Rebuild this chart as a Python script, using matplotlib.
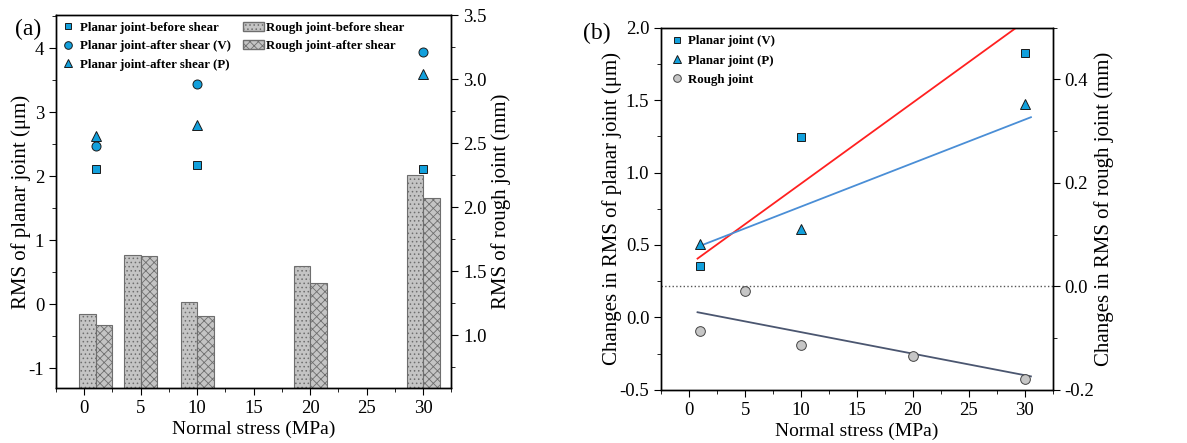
import numpy as np
import matplotlib
matplotlib.use("Agg")
import matplotlib.pyplot as plt
from matplotlib.ticker import MultipleLocator
from matplotlib.patches import Patch
from matplotlib.lines import Line2D

plt.rcParams['font.family'] = ['Liberation Serif', 'DejaVu Serif']
plt.rcParams['hatch.linewidth'] = 0.6
plt.rcParams['axes.linewidth'] = 1.0
plt.rcParams['axes.unicode_minus'] = False

# ---------------- panel (a) data ----------------
stress_bars = [1, 5, 10, 20, 30]
rough_before = [1.164, 1.623, 1.26, 1.541, 2.252]
rough_after = [1.078, 1.617, 1.146, 1.409, 2.073]

stress_planar = [1, 10, 30]
planar_before = [2.11, 2.18, 2.11]
planar_after_v = [2.48, 3.44, 3.94]
planar_after_p = [2.63, 2.80, 3.60]

# ---------------- panel (b) data ----------------
d_planar_v = [0.358, 1.248, 1.825]
d_planar_p = [0.51, 0.611, 1.472]
stress_rough = [1, 5, 10, 20, 30]
d_rough = [-0.087, -0.009, -0.113, -0.134, -0.179]

# fitted lines (end points)
fit_v_x = [0.75, 30.3]
fit_v_y = [0.406, 2.06]
fit_p_x = [1.05, 30.54]
fit_p_y = [0.496, 1.382]
fit_r_x = [0.75, 30.54]
fit_r_y = [-0.050, -0.174]

blue = '#12a0dc'
gray_fill = '#c4c4c4'
edge = '#6e6e6e'
tick_fs = 13.5
ylabel_fs = 15
xlabel_fs = 14
leg_fs = 9.3


def style_axis(ax, twin):
    for a in (ax, twin):
        a.tick_params(which='both', direction='out', labelsize=tick_fs)
        a.tick_params(which='major', length=5)
        a.tick_params(which='minor', length=3)
    ax.xaxis.set_major_locator(MultipleLocator(5))
    ax.xaxis.set_minor_locator(MultipleLocator(2.5))
    ax.set_xlim(-2.5, 32.5)


fig = plt.figure(figsize=(11.87, 4.43), dpi=100)

# ---------------- (a) ----------------
ax1 = fig.add_axes([0.0472, 0.124, 0.333, 0.842])
ax1r = ax1.twinx()
ax1.set_zorder(ax1r.get_zorder() + 1)
ax1.patch.set_visible(False)

w = 1.46
ax1r.bar(np.array(stress_bars) - w / 2, rough_before, width=w, color=gray_fill,
         edgecolor=edge, linewidth=0.8, hatch='....')
ax1r.bar(np.array(stress_bars) + w / 2, rough_after, width=w, color=gray_fill,
         edgecolor=edge, linewidth=0.8, hatch='xxxx')

ax1.plot(stress_planar, planar_before, 's', color=blue, mec='#1a1a1a', mew=0.7, ms=6)
ax1.plot(stress_planar, planar_after_v, 'o', color=blue, mec='#1a1a1a', mew=0.7, ms=6.5)
ax1.plot(stress_planar, planar_after_p, '^', color=blue, mec='#1a1a1a', mew=0.7, ms=7)

ax1.set_ylim(-1.31, 4.52)
ax1r.set_ylim(0.586, 3.5)
ax1.yaxis.set_major_locator(MultipleLocator(1))
ax1.yaxis.set_minor_locator(MultipleLocator(0.5))
ax1r.yaxis.set_minor_locator(MultipleLocator(0.25))
ax1r.set_yticks([1.0, 1.5, 2.0, 2.5, 3.0, 3.5])
ax1r.set_yticklabels(['1.0', '1.5', '2.0', '2.5', '3.0', '3.5'])
style_axis(ax1, ax1r)
ax1.set_ylabel('RMS of planar joint (\u03bcm)', fontsize=ylabel_fs, labelpad=-2)
ax1r.set_ylabel('RMS of rough joint (mm)', fontsize=ylabel_fs, labelpad=3)
ax1.set_xlabel('Normal stress (MPa)', fontsize=xlabel_fs, labelpad=3)

handles_a = [
    Line2D([], [], ls='', marker='s', color=blue, mec='#1a1a1a', mew=0.7, ms=5),
    Line2D([], [], ls='', marker='o', color=blue, mec='#1a1a1a', mew=0.7, ms=5.5),
    Line2D([], [], ls='', marker='^', color=blue, mec='#1a1a1a', mew=0.7, ms=6),
    Patch(facecolor=gray_fill, edgecolor=edge, hatch='....'),
    Patch(facecolor=gray_fill, edgecolor=edge, hatch='xxxx'),
]
labels_a = ['Planar joint-before shear', 'Planar joint-after shear (V)',
            'Planar joint-after shear (P)', 'Rough joint-before shear',
            'Rough joint-after shear']
ax1.legend(handles_a, labels_a, ncol=2, loc='upper left', frameon=False,
           prop={'weight': 'bold', 'size': leg_fs}, handlelength=1.6,
           handletextpad=0.15, columnspacing=0.9, labelspacing=0.5,
           borderaxespad=0.0, borderpad=0.5, bbox_to_anchor=(-0.012, 1.0))
fig.text(0.0125, 0.933, '(a)', fontsize=17, va='center')

# ---------------- (b) ----------------
ax2 = fig.add_axes([0.557, 0.120, 0.330, 0.8175])
ax2r = ax2.twinx()
ax2.set_zorder(ax2r.get_zorder() + 1)
ax2.patch.set_visible(False)

ax2.plot(fit_v_x, fit_v_y, '-', color='#ff2020', lw=1.3)
ax2.plot(fit_p_x, fit_p_y, '-', color='#4a8ed6', lw=1.3)
ax2r.plot(fit_r_x, fit_r_y, '-', color='#4b5670', lw=1.3)
ax2r.axhline(0.0, color='#555555', ls=':', lw=1.0)

ax2.plot(stress_planar, d_planar_v, 's', color=blue, mec='#1a1a1a', mew=0.7, ms=6)
ax2.plot(stress_planar, d_planar_p, '^', color=blue, mec='#1a1a1a', mew=0.7, ms=7)
ax2r.plot(stress_rough, d_rough, 'o', color='#c6c6c6', mec='#444444', mew=0.7, ms=7)

ax2.set_ylim(-0.5, 2.0)
ax2r.set_ylim(-0.2, 0.5)
ax2.yaxis.set_major_locator(MultipleLocator(0.5))
ax2.yaxis.set_minor_locator(MultipleLocator(0.25))
ax2r.set_yticks([-0.2, 0.0, 0.2, 0.4])
ax2r.yaxis.set_minor_locator(MultipleLocator(0.1))
style_axis(ax2, ax2r)
ax2.set_ylabel('Changes in RMS of planar joint (\u03bcm)', fontsize=ylabel_fs, labelpad=-2)
ax2r.set_ylabel('Changes in RMS of rough joint (mm)', fontsize=ylabel_fs, labelpad=0)
ax2.set_xlabel('Normal stress (MPa)', fontsize=xlabel_fs, labelpad=3)

handles_b = [
    Line2D([], [], ls='', marker='s', color=blue, mec='#1a1a1a', mew=0.7, ms=5),
    Line2D([], [], ls='', marker='^', color=blue, mec='#1a1a1a', mew=0.7, ms=6),
    Line2D([], [], ls='', marker='o', color='#c6c6c6', mec='#444444', mew=0.7, ms=5.5),
]
labels_b = ['Planar joint (V)', 'Planar joint (P)', 'Rough joint']
ax2.legend(handles_b, labels_b, loc='upper left', frameon=False,
           prop={'weight': 'bold', 'size': leg_fs}, handlelength=1.5,
           handletextpad=0.15, labelspacing=0.55, borderaxespad=0.0,
           borderpad=0.6, bbox_to_anchor=(-0.005, 1.0))
fig.text(0.4912, 0.925, '(b)', fontsize=17, va='center')

fig.savefig('out.png', dpi=100)
